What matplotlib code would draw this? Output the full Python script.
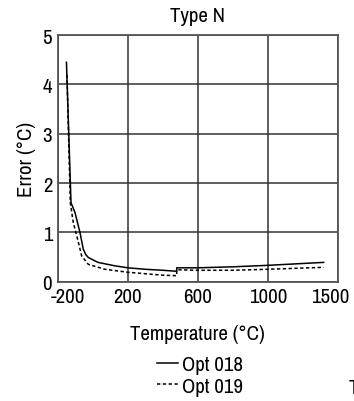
import numpy as np
import matplotlib
matplotlib.use("Agg")
import matplotlib.pyplot as plt
from matplotlib.transforms import ScaledTranslation

plt.rcParams['font.family'] = ['Archivo Narrow', 'DejaVu Sans']

# -------------------------------------------------------------
# Data
# -------------------------------------------------------------
tick_temps = [-200, 200, 600, 1000, 1500]
tick_labels = ['-200', '200', '600', '1000', '1500']

temp_018 = [-150, -124, -101, -73, -54, -40, -25, 30, 127, 200, 300, 400, 480,
            480, 600, 800, 1000, 1200, 1400]
err_018 = [4.45, 1.60, 1.40, 1.00, 0.66, 0.55, 0.49, 0.39, 0.32, 0.28, 0.25, 0.23, 0.21,
           0.28, 0.28, 0.30, 0.33, 0.36, 0.39]

temp_019 = [-147, -128, -111, -82, -63, -25, 70, 200, 300, 400, 480,
            480, 600, 800, 1000, 1200, 1400]
err_019 = [4.20, 1.60, 1.20, 0.80, 0.52, 0.35, 0.25, 0.19, 0.16, 0.13, 0.12,
           0.24, 0.23, 0.23, 0.25, 0.27, 0.29]

# -------------------------------------------------------------
# Non-linear x axis: each grid cell is one tick interval
# -------------------------------------------------------------
tick_pos = np.arange(len(tick_temps))


def fwd(x):
    return np.interp(x, tick_temps, tick_pos)


def inv(p):
    return np.interp(p, tick_pos, tick_temps)


fig = plt.figure(figsize=(3.54, 4.02), dpi=100)
ax = fig.add_axes([0.163, 0.297, 0.791, 0.613])
ax.set_xscale('function', functions=(fwd, inv))

ax.plot(temp_018, err_018, color='black', lw=1.1, label='Opt 018')
ax.plot(temp_019, err_019, color='black', lw=1.1, ls=(0, (2.2, 1.6)), label='Opt 019')

ax.set_xlim(-200, 1500)
ax.set_ylim(0, 5)
ax.set_xticks(tick_temps)
ax.set_xticklabels(tick_labels)
ax.set_yticks([0, 1, 2, 3, 4, 5])
ax.grid(True, color='#333333', lw=1.1)
ax.set_axisbelow(True)
for s in ax.spines.values():
    s.set_color('#555555')
    s.set_linewidth(1.3)

fs = 15
ax.tick_params(length=0, labelsize=fs, pad=4)
ax.set_title('Type N', fontsize=fs, pad=10.5)
ax.set_xlabel('Temperature (°C)', fontsize=fs, labelpad=13)
ax.set_ylabel('Error (°C)', fontsize=fs, labelpad=5)

# end labels sit inside the frame on the reference
xl = ax.get_xticklabels()
xl[0].set_transform(xl[0].get_transform() + ScaledTranslation(0.10, 0, fig.dpi_scale_trans))
xl[-1].set_transform(xl[-1].get_transform() + ScaledTranslation(-0.08, 0, fig.dpi_scale_trans))

ax.legend(loc='upper center', bbox_to_anchor=(0.565, 0.14), bbox_transform=fig.transFigure,
          frameon=False, fontsize=fs, handlelength=1.0, handletextpad=0.2,
          labelspacing=0.12, borderpad=0)

fig.text(0.985, 0.02, 'T', fontsize=fs, ha='left', va='baseline')

fig.savefig('out.png', dpi=100)
